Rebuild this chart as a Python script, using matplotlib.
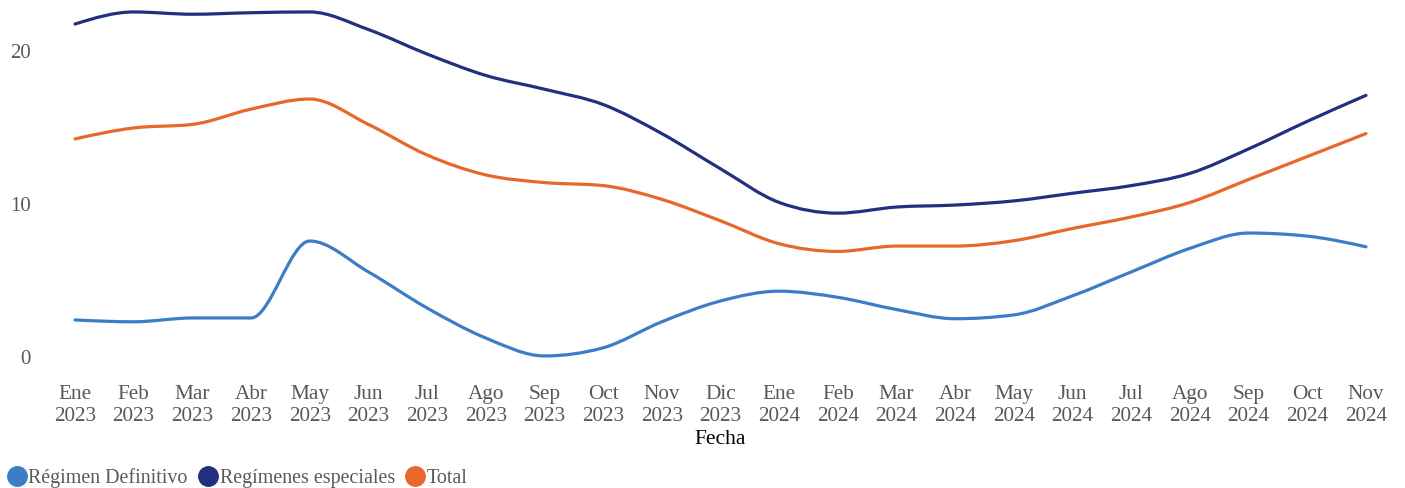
import matplotlib
matplotlib.use("Agg")
import matplotlib.pyplot as plt
import numpy as np
from matplotlib.path import Path
from matplotlib.patches import PathPatch
from matplotlib.lines import Line2D

plt.rcParams['font.family'] = ['Liberation Serif', 'DejaVu Serif']

meses = ["Ene", "Feb", "Mar", "Abr", "May", "Jun", "Jul", "Ago", "Sep", "Oct", "Nov", "Dic"]
fechas = [f"{meses[i % 12]}\n{2023 + i // 12}" for i in range(23)]

definitivo = [2.42, 2.3, 2.55, 2.55, 7.58, 5.56, 3.2, 1.24, 0.07, 0.6, 2.3, 3.66,
              4.3, 3.9, 3.1, 2.5, 2.75, 4.0, 5.56, 7.1, 8.1, 7.9, 7.2]
especiales = [21.76, 22.55, 22.4, 22.5, 22.55, 21.4, 19.8, 18.4, 17.5, 16.5, 14.6, 12.3,
              10.1, 9.4, 9.8, 9.93, 10.2, 10.7, 11.2, 12.0, 13.6, 15.4, 17.1]
total = [14.25, 14.97, 15.2, 16.2, 16.86, 15.2, 13.2, 11.9, 11.4, 11.2, 10.3, 8.9,
         7.4, 6.9, 7.25, 7.25, 7.6, 8.4, 9.15, 10.1, 11.6, 13.1, 14.6]

series = [("Régimen Definitivo", definitivo, "#3b7dc6"),
          ("Regímenes especiales", especiales, "#22307f"),
          ("Total", total, "#e8672a")]


def monotone_path(xs, ys):
    # monotone cubic curve through the points (like d3 curveMonotoneX)
    xs = np.asarray(xs, float)
    ys = np.asarray(ys, float)
    h = np.diff(xs)
    s = np.diff(ys) / h
    n = len(xs)
    t = np.zeros(n)
    for i in range(1, n - 1):
        p = (s[i - 1] * h[i] + s[i] * h[i - 1]) / (h[i - 1] + h[i])
        t[i] = (np.sign(s[i - 1]) + np.sign(s[i])) * min(abs(s[i - 1]), abs(s[i]), 0.5 * abs(p))
    t[0] = (3 * s[0] - t[1]) / 2
    t[-1] = (3 * s[-1] - t[-2]) / 2
    verts = [(xs[0], ys[0])]
    codes = [Path.MOVETO]
    for i in range(n - 1):
        d = h[i] / 3
        verts += [(xs[i] + d, ys[i] + d * t[i]),
                  (xs[i + 1] - d, ys[i + 1] - d * t[i + 1]),
                  (xs[i + 1], ys[i + 1])]
        codes += [Path.CURVE4] * 3
    return Path(verts, codes)


fig = plt.figure(figsize=(14.05, 4.88), dpi=100)
ax = fig.add_axes([0.0325, 0.2528, 0.9606, 0.7431])
x = np.arange(len(fechas))
ax.set_xlim(-0.5, 22.5)
ax.set_ylim(-0.5, 23.2)

for name, vals, col in series:
    ax.add_patch(PathPatch(monotone_path(x, vals), fill=False, edgecolor=col,
                           lw=2.3, capstyle='round', joinstyle='round'))

ax.set_xticks(x)
ax.set_xticklabels(fechas, fontsize=15.3, color="#595959", linespacing=1.15)
ax.set_yticks([0, 10, 20])
ax.set_yticklabels(["0", "10", "20"], fontsize=15, color="#595959")
ax.tick_params(axis='both', length=0)
ax.tick_params(axis='x', pad=15)
ax.tick_params(axis='y', pad=10.5)
ax.set_xlabel("Fecha", fontsize=15.5, color="black", labelpad=3)
for sp in ax.spines.values():
    sp.set_visible(False)

handles = [Line2D([], [], ls='none', marker='o', markersize=14, color=c) for _, _, c in series]
fig.legend(handles, [s[0] for s in series], loc='lower left', bbox_to_anchor=(-0.002, -0.025),
           ncol=3, frameon=False, fontsize=14.4, handlelength=0.75, handletextpad=0.2,
           columnspacing=0.65, borderaxespad=0.2, labelcolor="#595959")

fig.savefig("out.png", dpi=100)
